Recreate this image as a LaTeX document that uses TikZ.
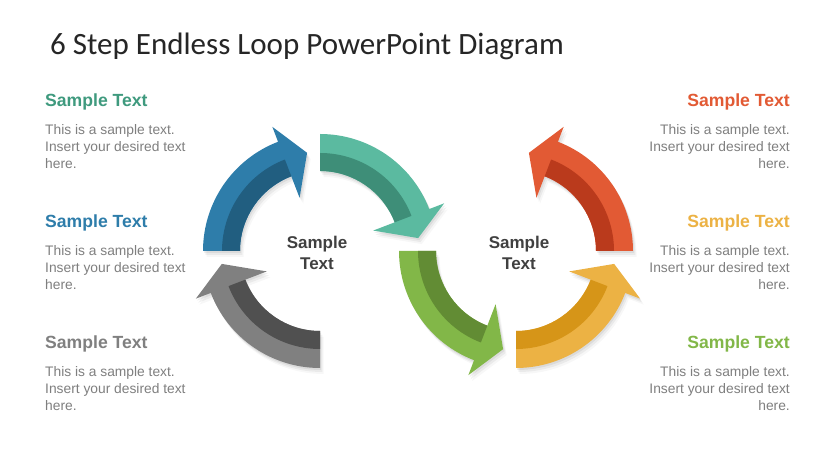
\documentclass[tikz,border=0pt]{standalone}
\usepackage{fontspec}
\setmainfont{Liberation Sans}
\newfontfamily\titlefont{Carlito}
\definecolor{bluL}{HTML}{2E7DAA}
\definecolor{bluD}{HTML}{215E80}
\definecolor{teaL}{HTML}{5BBAA0}
\definecolor{teaD}{HTML}{3E8E78}
\definecolor{teaT}{HTML}{3F9A7E}
\definecolor{gryL}{HTML}{808080}
\definecolor{gryD}{HTML}{505050}
\definecolor{grnL}{HTML}{82B748}
\definecolor{grnD}{HTML}{628C34}
\definecolor{yelL}{HTML}{ECB244}
\definecolor{yelD}{HTML}{D69518}
\definecolor{redL}{HTML}{E25A34}
\definecolor{redD}{HTML}{BA3A1C}
\definecolor{bodyT}{HTML}{7F7F7F}
\definecolor{darkT}{HTML}{404040}
\definecolor{titleT}{HTML}{262626}
\newcommand{\looparrow}[5]{%
  \begin{scope}[shift={#1}]
    \pgfmathsetmacro\aend{#2+#3*69}
    \pgfmathsetmacro\atip{#2+#3*82.5}
    \fill[#4] (#2:117) arc[start angle=#2, end angle=\aend, radius=117]
      -- (\aend:133) -- (\atip:99) -- (\aend:57) -- (\aend:80)
      arc[start angle=\aend, end angle=#2, radius=80] -- cycle;
    \fill[#5] (#2:80) arc[start angle=#2, end angle=\aend, radius=80]
      -- (\aend:98) arc[start angle=\aend, end angle=#2, radius=98] -- cycle;
  \end{scope}}
\newcommand{\loopshadow}[3]{%
  \begin{scope}[shift={#1}]
    \pgfmathsetmacro\aend{#2+#3*69}
    \pgfmathsetmacro\atip{#2+#3*82.5}
    \foreach \s/\o in {2/0.06,4/0.05,6/0.03}{
    \fill[black,opacity=\o,shift={(\s*0.6,-\s)}] (#2:117) arc[start angle=#2, end angle=\aend, radius=117]
      -- (\aend:133) -- (\atip:99) -- (\aend:57) -- (\aend:80)
      arc[start angle=\aend, end angle=#2, radius=80] -- cycle;}
  \end{scope}}
\tikzset{
  head/.style={font=\fontsize{17.6}{20}\selectfont\bfseries, inner sep=0pt},
  body/.style={font=\fontsize{13.8}{17}\selectfont, text=bodyT, inner sep=0pt},
  ctr/.style={font=\fontsize{17}{21}\selectfont\bfseries, text=darkT, align=center, inner sep=0pt}
}
\begin{document}
\begin{tikzpicture}[x=1pt,y=1pt]
\useasboundingbox (0,0) rectangle (835,470);
\fill[white] (0,0) rectangle (835,470);
% title
\node[anchor=base west, inner sep=0pt, text=titleT, font=\titlefont\fontsize{31}{34}\selectfont] (title) at (50,415) {6 Step Endless Loop PowerPoint Diagram};
% shadows
\loopshadow{(320,219)}{180}{-1}
\loopshadow{(320,219)}{90}{-1}
\loopshadow{(320,219)}{270}{-1}
\loopshadow{(516,219)}{180}{1}
\loopshadow{(516,219)}{270}{1}
\loopshadow{(516,219)}{0}{1}
% arrows
\looparrow{(320,219)}{180}{-1}{bluL}{bluD}
\looparrow{(320,219)}{90}{-1}{teaL}{teaD}
\looparrow{(320,219)}{270}{-1}{gryL}{gryD}
\looparrow{(516,219)}{180}{1}{grnL}{grnD}
\looparrow{(516,219)}{270}{1}{yelL}{yelD}
\looparrow{(516,219)}{0}{1}{redL}{redD}
% centre texts
\node[ctr] (c1) at (317,217) {Sample\\Text};
\node[ctr] (c2) at (519,217) {Sample\\Text};
% left texts
\node[head, text=teaT, anchor=base west] (h1) at (45,363) {Sample Text};
\node[body, anchor=north west, align=left] (b1) at (45,346) {This is a sample text.\\Insert your desired text\\here.};
\node[head, text=bluL, anchor=base west] (h2) at (45,242) {Sample Text};
\node[body, anchor=north west, align=left] (b2) at (45,225) {This is a sample text.\\Insert your desired text\\here.};
\node[head, text=gryL, anchor=base west] (h3) at (45,121) {Sample Text};
\node[body, anchor=north west, align=left] (b3) at (45,104) {This is a sample text.\\Insert your desired text\\here.};
% right texts
\node[head, text=redL, anchor=base east] (h4) at (790,363) {Sample Text};
\node[body, anchor=north east, align=right] (b4) at (790,346) {This is a sample text.\\Insert your desired text\\here.};
\node[head, text=yelL, anchor=base east] (h5) at (790,242) {Sample Text};
\node[body, anchor=north east, align=right] (b5) at (790,225) {This is a sample text.\\Insert your desired text\\here.};
\node[head, text=grnL, anchor=base east] (h6) at (790,121) {Sample Text};
\node[body, anchor=north east, align=right] (b6) at (790,104) {This is a sample text.\\Insert your desired text\\here.};
\end{tikzpicture}
\end{document}
